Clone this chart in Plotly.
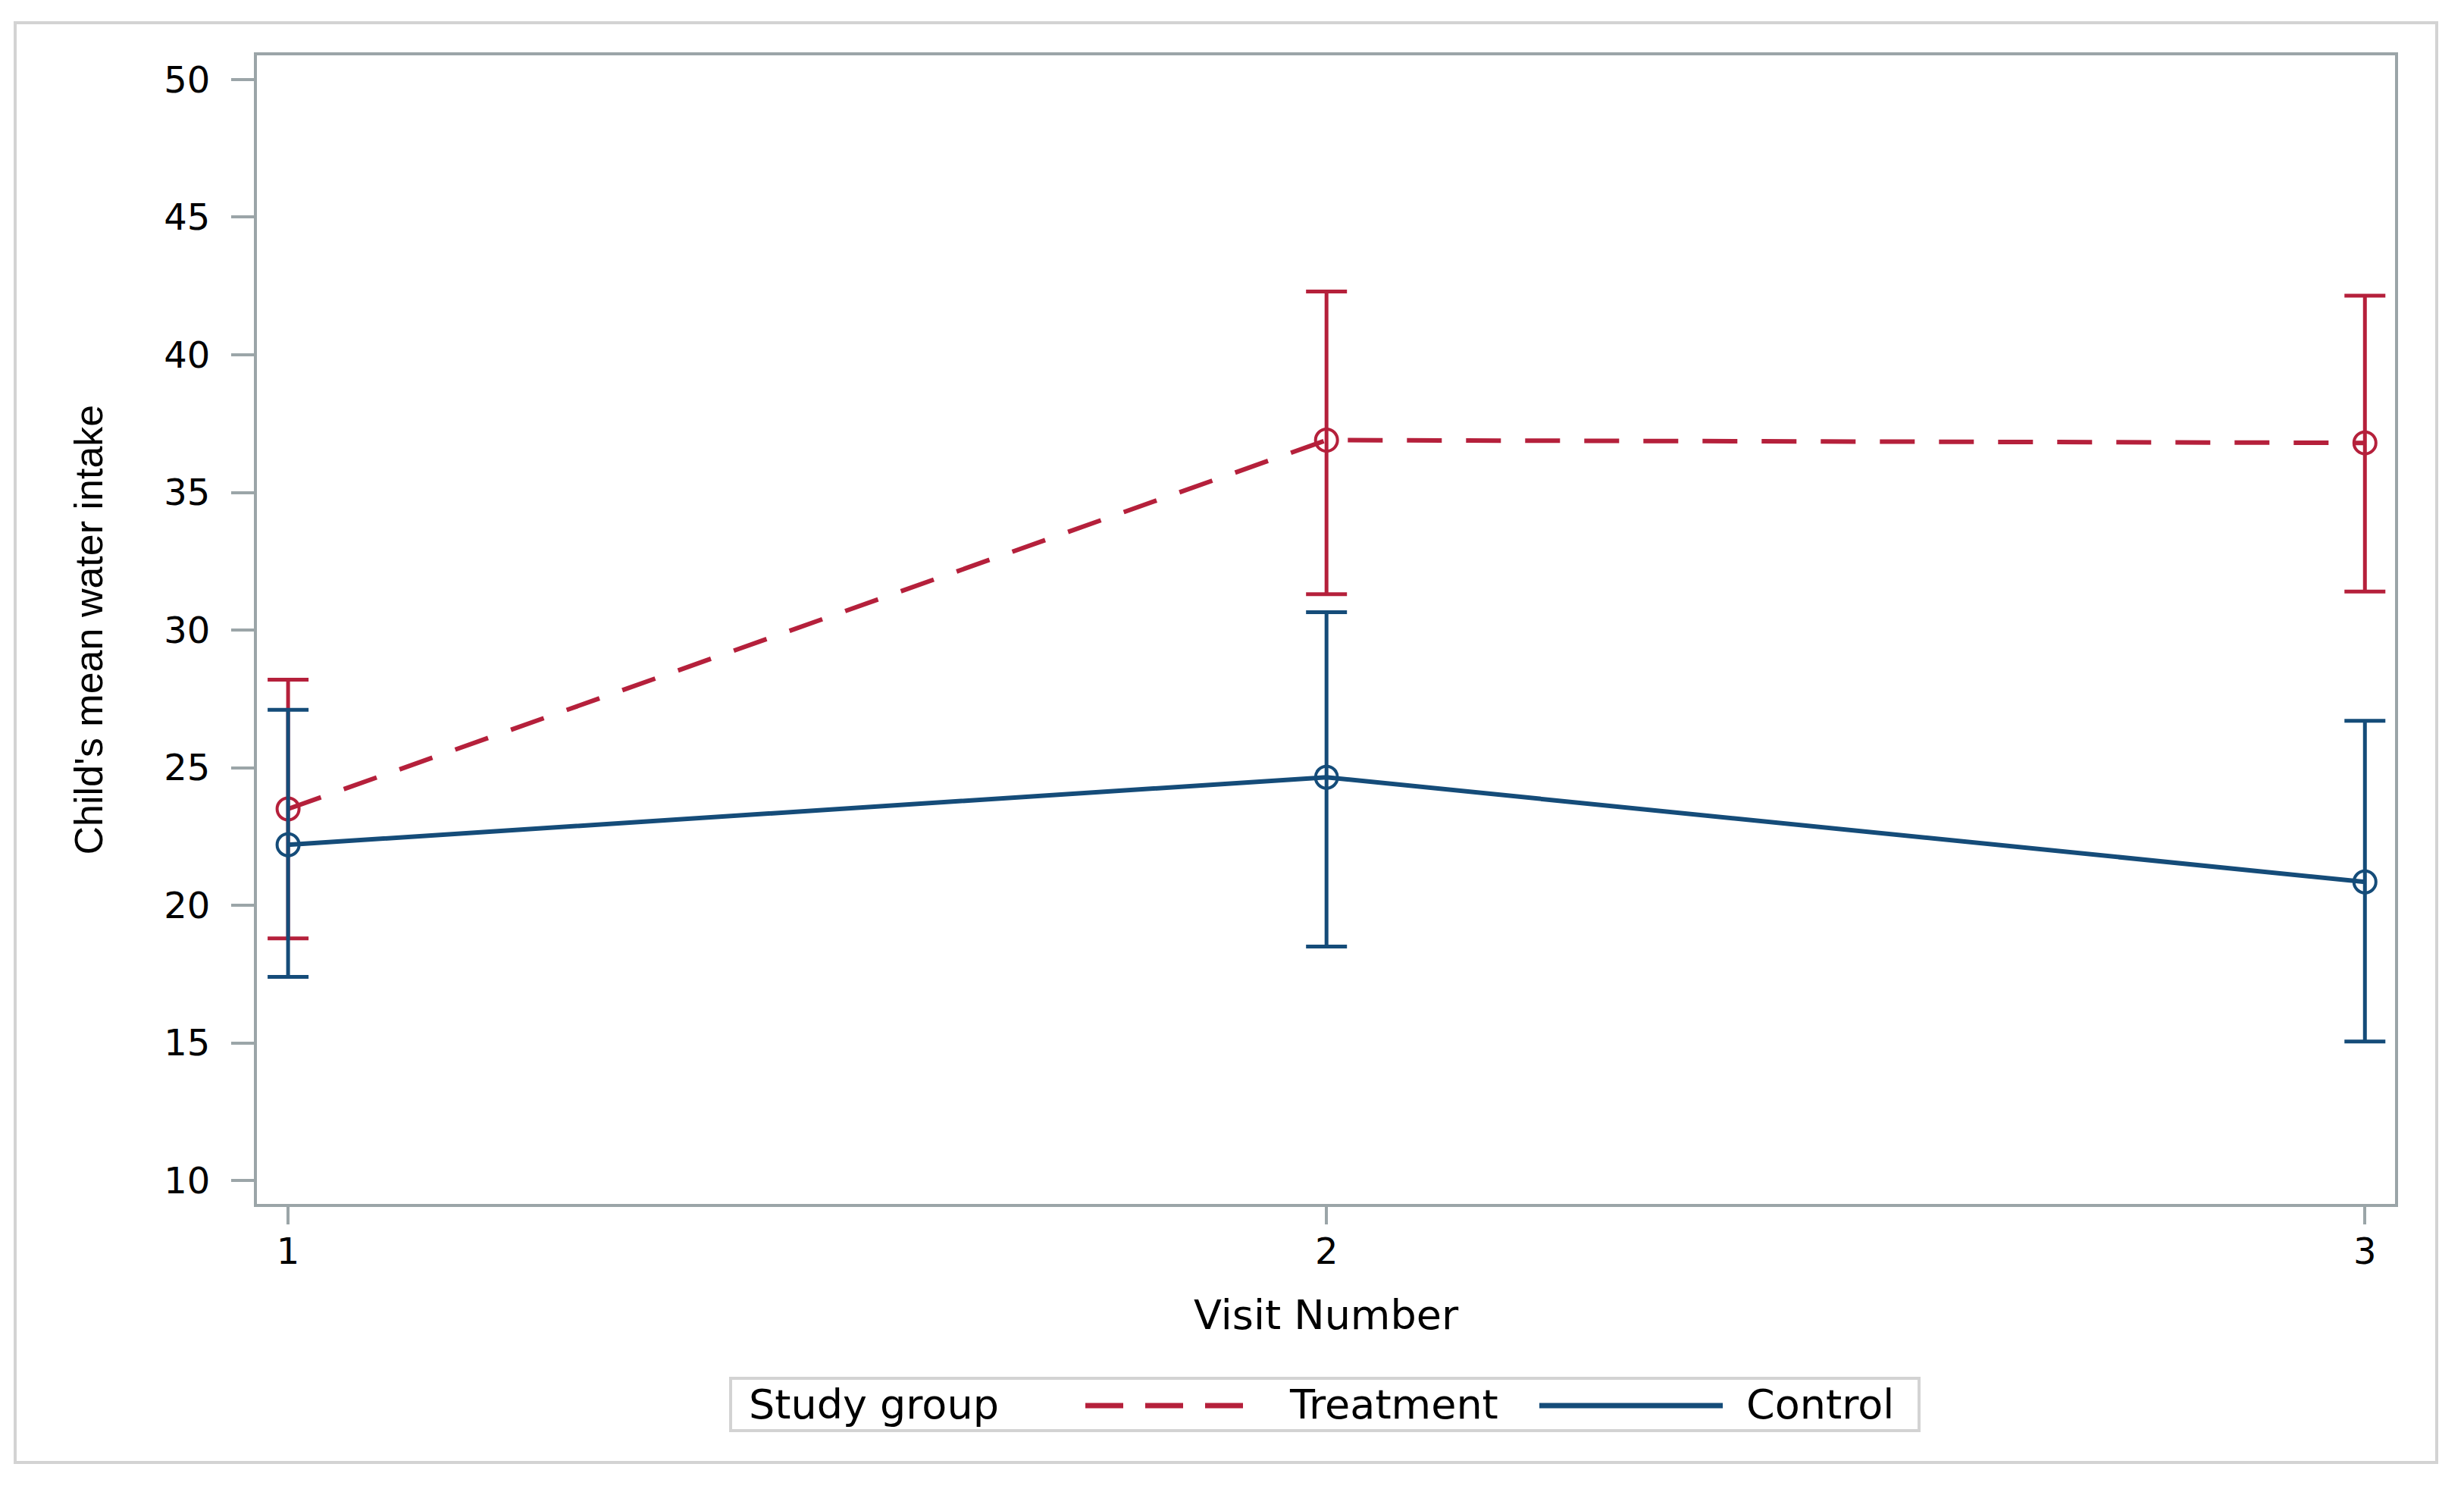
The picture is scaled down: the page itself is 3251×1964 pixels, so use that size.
import plotly.graph_objects as go

# ---------------- data ----------------
visits = [1, 2, 3]
visit_labels = ["1", "2", "3"]

treatment_mean = [23.5, 36.9, 36.8]
treatment_upper = [28.2, 42.3, 42.15]
treatment_lower = [18.8, 31.3, 31.4]

control_mean = [22.2, 24.65, 20.85]
control_upper = [27.1, 30.65, 26.7]
control_lower = [17.4, 18.5, 15.05]

y_ticks = [10, 15, 20, 25, 30, 35, 40, 45, 50]

group_title = "Study group"
group_names = ["Treatment", "Control"]

# ---------------- style ----------------
W, H = 3251, 1964
PL, PR, PT, PB = 339, 3160, 73, 1588   # plot area in pixels

RED = "#B5203B"
BLUE = "#154C79"
FRAME = "#9BA5A8"
BORDER = "#D3D3D3"
DASH = "46px,32px"
FONT = "DejaVu Sans"
NARROW = "Liberation Sans, Arial, sans-serif"


def px_x(x):
    return (x - PL) / (PR - PL)


def px_y(y):
    return (PB - y) / (PB - PT)


def err(mean, upper, lower):
    plus = [u - m for u, m in zip(upper, mean)]
    minus = [m - l for m, l in zip(mean, lower)]
    return plus, minus


t_plus, t_minus = err(treatment_mean, treatment_upper, treatment_lower)
c_plus, c_minus = err(control_mean, control_upper, control_lower)

fig = go.Figure()

fig.add_trace(go.Scatter(
    x=visits, y=treatment_mean, name=group_names[0], mode="lines+markers",
    line=dict(color=RED, width=6, dash=DASH),
    marker=dict(symbol="circle-open", size=29, color=RED, line=dict(color=RED, width=4)),
    error_y=dict(type="data", symmetric=False, array=t_plus, arrayminus=t_minus,
                 color=RED, thickness=5, width=27),
    showlegend=False,
))

fig.add_trace(go.Scatter(
    x=visits, y=control_mean, name=group_names[1], mode="lines+markers",
    line=dict(color=BLUE, width=6),
    marker=dict(symbol="circle-open", size=29, color=BLUE, line=dict(color=BLUE, width=4)),
    error_y=dict(type="data", symmetric=False, array=c_plus, arrayminus=c_minus,
                 color=BLUE, thickness=5, width=27),
    showlegend=False,
))

axis_common = dict(
    showline=True, mirror=True, linecolor=FRAME, linewidth=4,
    ticks="outside", tickcolor=FRAME, tickwidth=4,
    showgrid=False, zeroline=False,
    tickfont=dict(family=FONT, size=48, color="black"),
)

fig.update_xaxes(
    range=[0.97, 3.029], tickvals=visits, ticktext=visit_labels,
    ticklen=23, ticklabelstandoff=-6, **axis_common,
)
fig.update_yaxes(
    range=[9.15, 50.88], tickvals=y_ticks, ticktext=[str(v) for v in y_ticks],
    ticklen=30, ticklabelstandoff=18, **axis_common,
)

shapes = []
annotations = []

# outer border
shapes.append(dict(type="rect", xref="paper", yref="paper",
                   x0=px_x(20), x1=px_x(3215), y0=px_y(1929), y1=px_y(30),
                   line=dict(color=BORDER, width=4), fillcolor="rgba(0,0,0,0)", layer="below"))

# axis titles
annotations.append(dict(text="Visit Number", xref="paper", yref="paper",
                        x=0.5, y=px_y(1734), xanchor="center", yanchor="middle",
                        showarrow=False, font=dict(family=FONT, size=54, color="black")))
annotations.append(dict(text="Child's mean water intake", xref="paper", yref="paper",
                        x=px_x(116), y=0.5, xanchor="center", yanchor="middle", textangle=-90,
                        showarrow=False, font=dict(family=NARROW, size=52, color="black")))

# legend box
LY = 1852
shapes.append(dict(type="rect", xref="paper", yref="paper",
                   x0=px_x(964), x1=px_x(2532), y0=px_y(1887), y1=px_y(1818),
                   line=dict(color=BORDER, width=4), fillcolor="white"))
annotations.append(dict(text=group_title, xref="paper", yref="paper",
                        x=px_x(986), y=px_y(LY), xanchor="left", yanchor="middle",
                        showarrow=False, font=dict(family=FONT, size=54, color="black")))
shapes.append(dict(type="line", xref="paper", yref="paper",
                   x0=px_x(1432), x1=px_x(1643), y0=px_y(LY + 2), y1=px_y(LY + 2),
                   line=dict(color=RED, width=7, dash="50px,29px")))
annotations.append(dict(text=group_names[0], xref="paper", yref="paper",
                        x=px_x(1699), y=px_y(LY), xanchor="left", yanchor="middle",
                        showarrow=False, font=dict(family=FONT, size=54, color="black")))
shapes.append(dict(type="line", xref="paper", yref="paper",
                   x0=px_x(2031), x1=px_x(2273), y0=px_y(LY + 2), y1=px_y(LY + 2),
                   line=dict(color=BLUE, width=7)))
annotations.append(dict(text=group_names[1], xref="paper", yref="paper",
                        x=px_x(2302), y=px_y(LY), xanchor="left", yanchor="middle",
                        showarrow=False, font=dict(family=FONT, size=54, color="black")))

fig.update_layout(
    width=W, height=H, autosize=False,
    margin=dict(l=PL, r=W - PR, t=PT, b=H - PB, pad=0),
    paper_bgcolor="white", plot_bgcolor="white",
    shapes=shapes, annotations=annotations,
    showlegend=False,
)

fig.write_html("out.html", config={"displayModeBar": False},
               post_script="document.body.style.margin='0';document.body.style.overflow='hidden';")
